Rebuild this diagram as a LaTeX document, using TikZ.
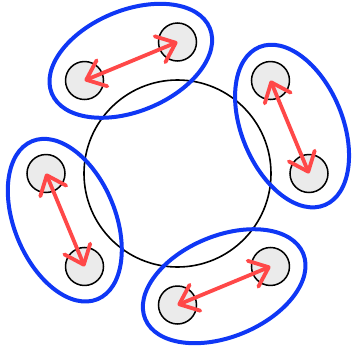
\documentclass[tikz,border=0pt]{standalone}
\usepackage{tikz}
\usetikzlibrary{shapes.geometric, arrows.meta}
\definecolor{pairBlue}{RGB}{15,55,245}
\definecolor{swapRed}{RGB}{255,72,72}
\definecolor{siteGray}{RGB}{235,235,235}
\tikzset{
  ring/hub/.style={circle, draw=black, line width=1.6pt,
    minimum size=187, inner sep=0pt},
  ring/site/.style={circle, draw=black, fill=siteGray, line width=1.5pt,
    minimum size=38, inner sep=0pt},
  ring/pair/.style={ellipse, draw=pairBlue, line width=4pt,
    minimum width=171, minimum height=101, inner sep=0pt},
  ring/swap/.style={{Straight Barb[length=17pt,width=28pt,round]}-{Straight Barb[length=17pt,width=28pt,round]},
    line width=3.8pt, draw=swapRed, line cap=round}
}
\begin{document}
\begin{tikzpicture}[x=1pt, y=1pt]
    \useasboundingbox (-177.5,-175.5) rectangle (175.5,173.5);
    \node[ring/hub] (hub) at (0,0) {};
    % sites on the outer ring
    \node[ring/site] (s1) at (135:131.5) {};
    \node[ring/site] (s2) at (90:131.5) {};
    \node[ring/site] (s3) at (45:131.5) {};
    \node[ring/site] (s4) at (0:131.5) {};
    \node[ring/site] (s5) at (315:131.5) {};
    \node[ring/site] (s6) at (270:131.5) {};
    \node[ring/site] (s7) at (225:131.5) {};
    \node[ring/site] (s8) at (180:131.5) {};
    % groups
    \node[ring/pair, rotate=22.5] (g1) at (112.5:122) {};
    \node[ring/pair, rotate=-67.5] (g2) at (22.5:124) {};
    \node[ring/pair, rotate=22.5] (g3) at (292.5:122) {};
    \node[ring/pair, rotate=-67.5] (g4) at (202.5:122) {};
    % exchanges
    \draw[ring/swap] (s1.center) -- (s2.center);
    \draw[ring/swap] (s3.center) -- (s4.center);
    \draw[ring/swap] (s5.center) -- (s6.center);
    \draw[ring/swap] (s7.center) -- (s8.center);
\end{tikzpicture}
\end{document}
